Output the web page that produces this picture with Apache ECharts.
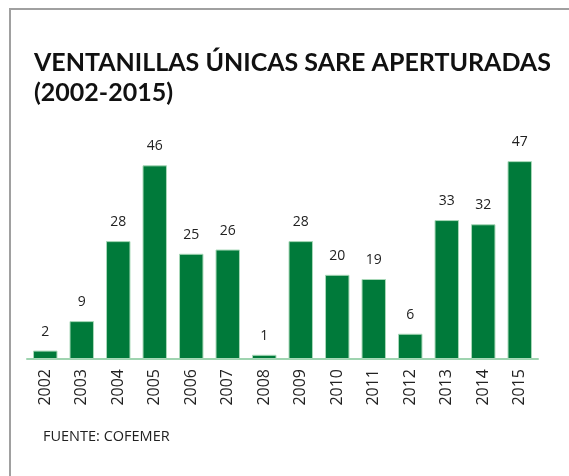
<!DOCTYPE html>
<html><head><meta charset="utf-8">
<script src="https://cdn.jsdelivr.net/npm/echarts@6/dist/echarts.min.js"></script>
<style>html,body{margin:0;padding:0;background:#fff}#c{width:569px;height:476px}</style>
</head><body><div id="c"></div>
<script>
const categories = ['2002','2003','2004','2005','2006','2007','2008','2009','2010','2011','2012','2013','2014','2015'];
const values = [2, 9, 28, 46, 25, 26, 1, 28, 20, 19, 6, 33, 32, 47];
const titleText = 'VENTANILLAS ÚNICAS SARE APERTURADAS\n(2002-2015)';
const sourceText = 'FUENTE: COFEMER';

const chart = echarts.init(document.getElementById('c'), null, {renderer: 'canvas'});
chart.setOption({
  animation: false,
  backgroundColor: '#fff',
  graphic: [
    {type: 'rect', shape: {x: 10, y: 9, width: 700, height: 600}, style: {fill: 'none', stroke: '#a0a0a0', lineWidth: 2}},
    {type: 'text', left: 43, top: 429, style: {text: sourceText, font: '14.5px "Open Sans", sans-serif', fill: '#222'}}
  ],
  title: {
    text: titleText, left: 29, top: 43,
    textStyle: {fontFamily: 'Lato', fontWeight: 'bold', fontSize: 25, color: '#111', lineHeight: 30}
  },
  grid: {left: 27, right: 31, top: 148.5, bottom: 117, containLabel: false},
  xAxis: {
    type: 'category', data: categories,
    axisLine: {lineStyle: {color: '#9fd4b0', width: 2}},
    axisTick: {show: false},
    axisLabel: {rotate: 90, margin: 10, fontSize: 16, color: '#222', fontFamily: '"Open Sans", sans-serif'}
  },
  yAxis: {type: 'value', min: 0, max: 50, show: false, splitLine: {show: false}},
  series: [{
    type: 'bar', data: values, barWidth: '67%',
    itemStyle: {color: '#007a3a', borderColor: '#a8d8b8', borderWidth: 1},
    label: {show: true, position: 'top', distance: 12, fontSize: 14, color: '#222', fontFamily: '"Open Sans", sans-serif'}
  }]
});
</script></body></html>
